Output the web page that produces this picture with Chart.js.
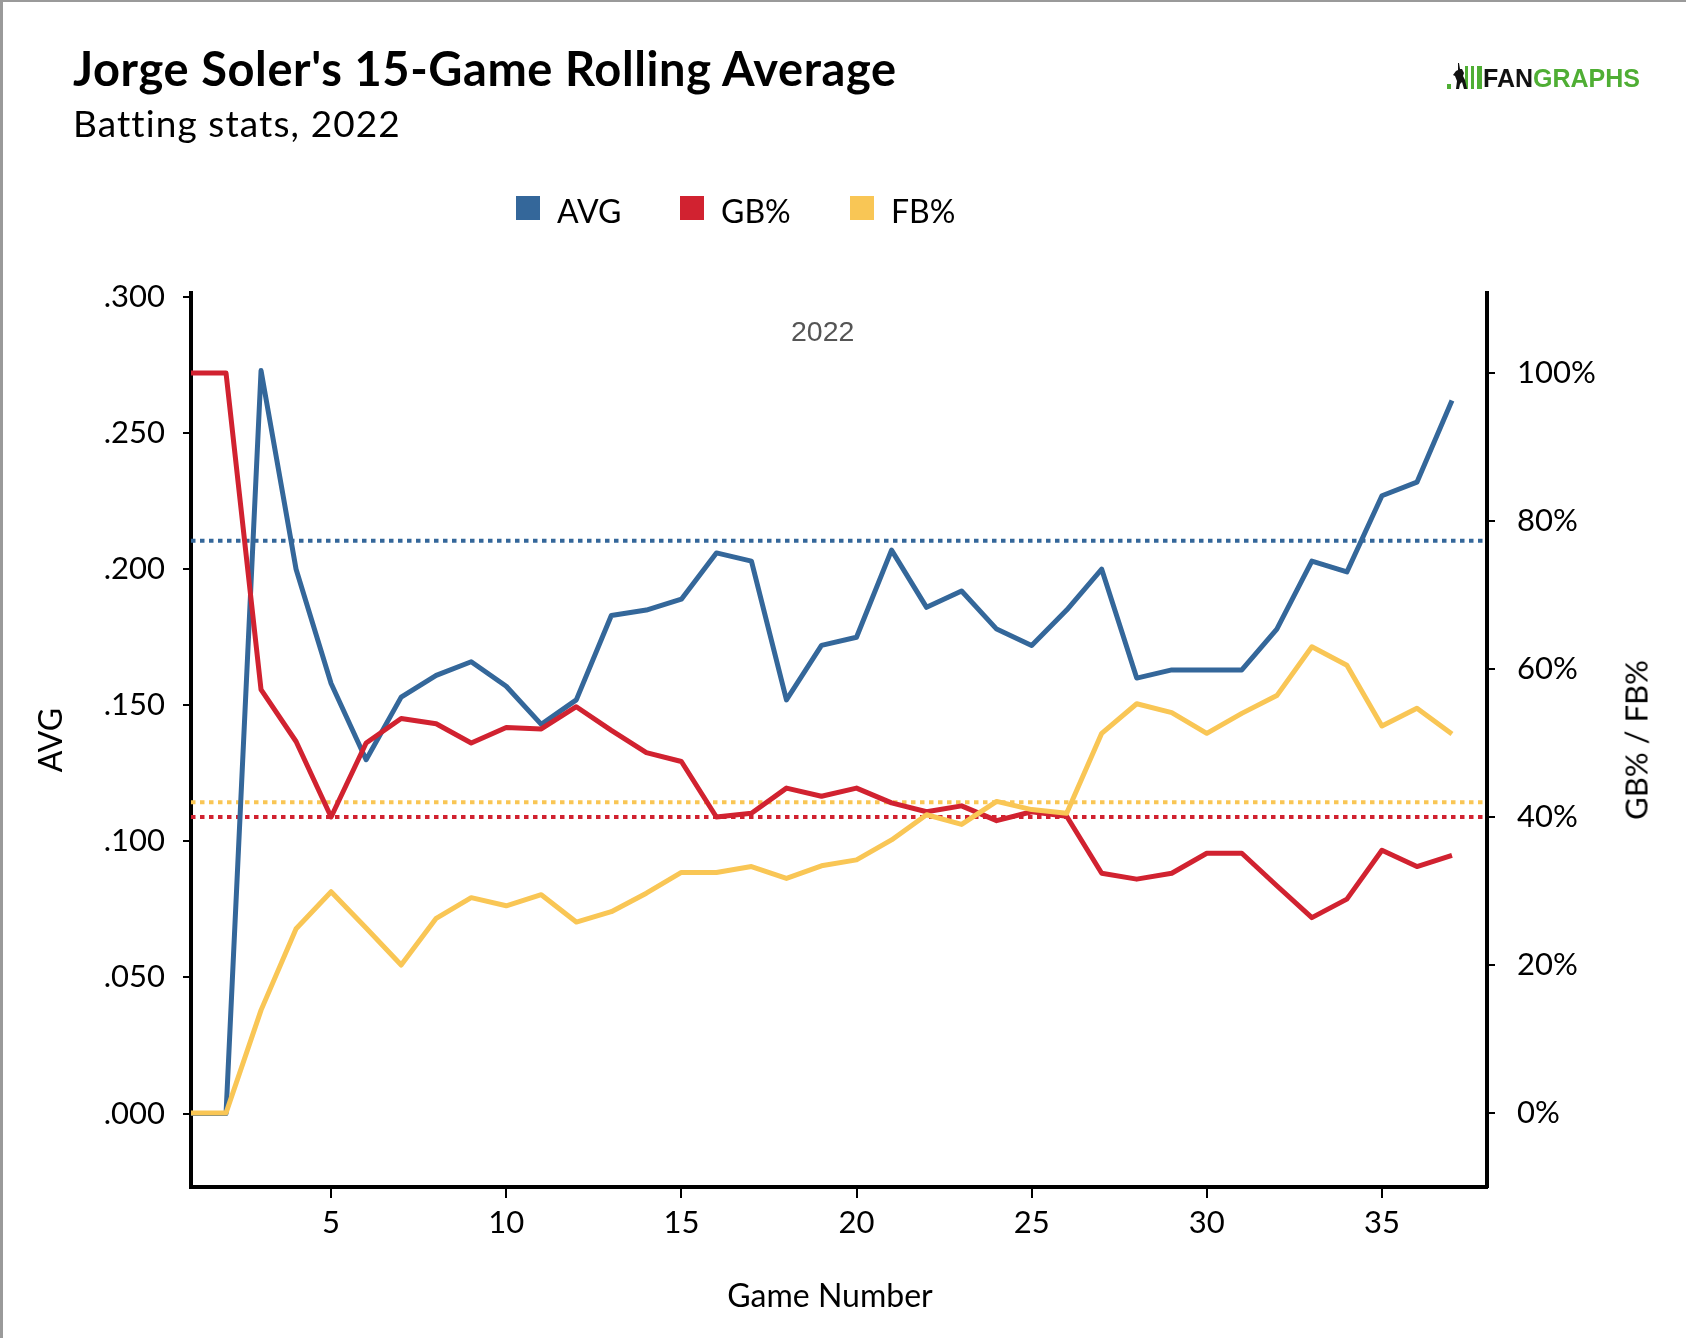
<!DOCTYPE html>
<html lang="en">
<head>
<meta charset="UTF-8">
<title>Jorge Soler's 15-Game Rolling Average</title>
<script src="https://cdn.jsdelivr.net/npm/chart.js@4.4.0/dist/chart.umd.min.js"></script>
<style>
  html, body { margin: 0; padding: 0; background: #fff; }
  #wrap { position: relative; width: 1686px; height: 1338px; overflow: hidden;
          border-top: 2px solid #9a9a9a; border-left: 3px solid #9a9a9a; box-sizing: border-box; }
  #chart { position: absolute; left: -3px; top: -2px; }
  .txt { position: absolute; white-space: nowrap; line-height: 1; font-family: Lato, sans-serif; color: #000; }
  .title { left: 70px; top: 43px; font-size: 47px; font-weight: 700; letter-spacing: 0.6px; }
  .subtitle { left: 70px; top: 102px; font-size: 37px; letter-spacing: 1.1px; }
  .sw { position: absolute; width: 24px; height: 24px; }
  .leg { font-size: 32px; }
  .year { font-family: 'Liberation Sans', Arial, sans-serif; font-size: 28.5px; color: #555; }
  .logo { font-family: 'Liberation Sans', Arial, sans-serif; font-weight: 700; font-size: 25px; }
</style>
</head>
<body>
<div id="wrap">
  <canvas id="chart" width="1686" height="1338"></canvas>

  <div class="txt title">Jorge Soler's 15-Game Rolling Average</div>
  <div class="txt subtitle">Batting stats, 2022</div>

  <!-- legend -->
  <div class="sw" style="left:513px; top:194px; background:#34679A"></div>
  <div class="txt leg" style="left:554px; top:193px">AVG</div>
  <div class="sw" style="left:677px; top:194px; background:#D12230"></div>
  <div class="txt leg" style="left:718px; top:193px">GB%</div>
  <div class="sw" style="left:847px; top:194px; background:#F9C655"></div>
  <div class="txt leg" style="left:888px; top:193px">FB%</div>

  <div class="txt year" style="left:788px; top:315px">2022</div>

  <div class="txt" style="left:1633px; top:738px; font-size:31px; transform:translate(-50%,-50%) rotate(-90deg);">GB% / FB%</div>
  <div class="txt" style="left:827px; top:1277px; font-size:32px; transform:translateX(-50%);">Game Number</div>

  <!-- fangraphs logo -->
  <svg style="position:absolute; left:1443px; top:60px" width="40" height="30" viewBox="0 0 40 30">
    <rect x="1" y="22" width="4" height="5" fill="#4FAE34"/>
    <rect x="19" y="4" width="3" height="23" fill="#4FAE34"/>
    <rect x="25" y="4" width="3" height="23" fill="#4FAE34"/>
    <rect x="31" y="4" width="5" height="23" fill="#4FAE34"/>
    <path d="M12 1 L13 1 L14 7 L16 7 L18 11 L17 14 L19 18 L21 27 L18 27 L16 20 L14 22 L13 27 L10 27 L11 19 L9 14 L7 13 L10 9 L12 8 Z" fill="#111"/>
  </svg>
  <div class="txt logo" style="left:1480px; top:64px"><span style="color:#111">FAN</span><span style="color:#4FAE34">GRAPHS</span></div>
</div>

<script>
    // games and rolling values
    const games = [1, 2, 3, 4, 5, 6, 7, 8, 9, 10, 11, 12, 13, 14, 15, 16, 17, 18, 19, 20,
                   21, 22, 23, 24, 25, 26, 27, 28, 29, 30, 31, 32, 33, 34, 35, 36, 37];
    const avg = [0, 0, .273, .200, .158, .130, .153, .161, .166, .157,
                 .143, .152, .183, .185, .189, .206, .203, .152, .172, .175,
                 .207, .186, .192, .178, .172, .185, .200, .160, .163, .163,
                 .163, .178, .203, .199, .227, .232, .262];
    const gbPct = [1, 1, .572, .502, .400, .500, .533, .526, .500, .521,
                   .519, .549, .517, .487, .475, .400, .405, .439, .428, .439,
                   .419, .407, .415, .395, .407, .401, .324, .316, .324, .351,
                   .351, .307, .264, .289, .355, .333, .348];
    const fbPct = [0, 0, .139, .249, .299, .250, .200, .263, .291, .280,
                   .295, .258, .272, .297, .325, .325, .333, .317, .334, .342,
                   .369, .403, .390, .421, .410, .405, .513, .553, .541, .513,
                   .540, .564, .630, .605, .523, .547, .512];

    // season reference lines
    const avgMean = 0.2105;
    const gbMean = 0.40;
    const fbMean = 0.42;

    // ticks
    const xTicks = [5, 10, 15, 20, 25, 30, 35];
    const avgTicks = [0, 0.05, 0.10, 0.15, 0.20, 0.25, 0.30];
    const pctTicks = [0, 0.2, 0.4, 0.6, 0.8, 1.0];

    const BLUE = '#34679A', RED = '#D12230', YELLOW = '#F9C655';

    function pts(vals) {
        return games.map((g, i) => ({ x: g, y: vals[i] }));
    }
    function flat(v) {
        return [{ x: 1, y: v }, { x: 38, y: v }];
    }

    const axisGrid = { display: true, drawOnChartArea: false, drawTicks: true, tickLength: 8, color: '#000', lineWidth: 2 };
    const axisBorder = { display: true, color: '#000', width: 4 };
    const tickFont = { family: 'Lato', size: 31 };

    new Chart(document.getElementById('chart'), {
        type: 'line',
        data: {
            datasets: [
                { label: 'FB%', data: pts(fbPct), yAxisID: 'y2', borderColor: YELLOW, order: 0 },
                { label: 'GB%', data: pts(gbPct), yAxisID: 'y2', borderColor: RED, order: 1 },
                { label: 'AVG', data: pts(avg), yAxisID: 'y', borderColor: BLUE, order: 2 },
                { label: 'AVG mean', data: flat(avgMean), yAxisID: 'y', borderColor: BLUE, borderWidth: 4, borderDash: [4.5, 4.5], order: 3 },
                { label: 'FB% mean', data: flat(fbMean), yAxisID: 'y2', borderColor: YELLOW, borderWidth: 4, borderDash: [4.5, 4.5], order: 3 },
                { label: 'GB% mean', data: flat(gbMean), yAxisID: 'y2', borderColor: RED, borderWidth: 4, borderDash: [4.5, 4.5], order: 3 }
            ]
        },
        options: {
            responsive: false,
            animation: false,
            layout: { padding: { top: 293, left: 0, right: 0, bottom: 0 } },
            plugins: { legend: { display: false }, tooltip: { enabled: false } },
            elements: {
                point: { radius: 0 },
                line: { borderWidth: 5, tension: 0, fill: false, borderJoinStyle: 'round' }
            },
            scales: {
                x: {
                    type: 'linear', min: 1, max: 38,
                    afterBuildTicks: s => { s.ticks = xTicks.map(v => ({ value: v })); },
                    afterFit: s => { s.height = 151; },
                    grid: Object.assign({}, axisGrid, { tickLength: 11 }),
                    border: axisBorder,
                    ticks: { font: tickFont, color: '#000', padding: 6, maxRotation: 0 }
                },
                y: {
                    position: 'left', min: -0.027, max: 0.3015,
                    afterBuildTicks: s => { s.ticks = avgTicks.map(v => ({ value: v })); },
                    afterFit: s => { s.width = 191; },
                    grid: axisGrid,
                    border: axisBorder,
                    ticks: { font: tickFont, color: '#000', padding: 18,
                             callback: v => v.toFixed(3).replace(/^0/, '') },
                    title: { display: true, text: 'AVG', color: '#000', font: { family: 'Lato', size: 32 }, padding: { top: 32, bottom: 0 } }
                },
                y2: {
                    position: 'right', min: -0.1, max: 1.108,
                    afterBuildTicks: s => { s.ticks = pctTicks.map(v => ({ value: v })); },
                    afterFit: s => { s.width = 199; },
                    grid: axisGrid,
                    border: axisBorder,
                    ticks: { font: tickFont, color: '#000', padding: 22,
                             callback: v => Math.round(v * 100) + '%' }
                }
            }
        }
    });
</script>
</body>
</html>
